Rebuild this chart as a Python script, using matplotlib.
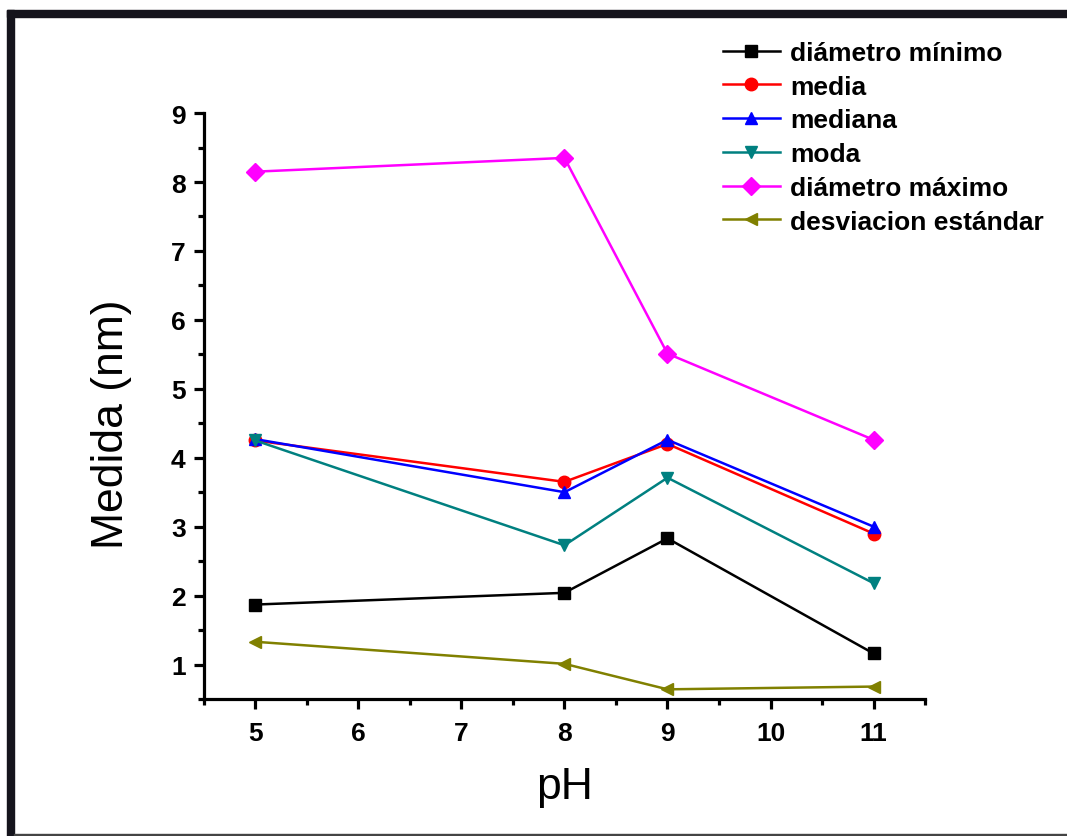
import matplotlib
matplotlib.use('Agg')
import matplotlib.pyplot as plt
from matplotlib.patches import Rectangle
from matplotlib.ticker import MultipleLocator

# pH values and measured sizes (nm)
ph = [5, 8, 9, 11]
diam_min = [1.87, 2.04, 2.83, 1.16]
media = [4.25, 3.65, 4.20, 2.90]
mediana = [4.27, 3.50, 4.26, 3.00]
moda = [4.25, 2.73, 3.71, 2.18]
diam_max = [8.15, 8.35, 5.51, 4.26]
desv = [1.33, 1.01, 0.64, 0.68]

series = [
    ("diámetro mínimo", diam_min, 'black', 's'),
    ("media", media, '#ff0000', 'o'),
    ("mediana", mediana, '#0000ff', '^'),
    ("moda", moda, '#008080', 'v'),
    ("diámetro máximo", diam_max, '#ff00ff', 'D'),
    ("desviacion estándar", desv, '#808000', '<'),
]

plt.rcParams['font.family'] = ['Liberation Sans', 'DejaVu Sans']

fig = plt.figure(figsize=(10.67, 8.37), dpi=100)
ax = fig.add_axes([0.191, 0.1637, 0.676, 0.700])

for name, vals, col, mk in series:
    ax.plot(ph, vals, color=col, marker=mk, markersize=9, linewidth=1.8, label=name)

ax.set_xlim(4.5, 11.5)
ax.set_ylim(0.5, 9)
ax.xaxis.set_major_locator(MultipleLocator(1))
ax.xaxis.set_minor_locator(MultipleLocator(0.5))
ax.yaxis.set_major_locator(MultipleLocator(1))
ax.yaxis.set_minor_locator(MultipleLocator(0.5))

for s in ['top', 'right']:
    ax.spines[s].set_visible(False)
for s in ['left', 'bottom']:
    ax.spines[s].set_linewidth(2.3)

ax.tick_params(which='major', direction='out', length=7, width=2.3, labelsize=19, pad=6)
ax.tick_params(axis='x', which='major', pad=9)
ax.tick_params(which='minor', direction='out', length=4, width=2.3)
for lab in ax.get_xticklabels() + ax.get_yticklabels():
    lab.set_fontweight('bold')

ax.set_xlabel("pH", fontsize=32, labelpad=15)
ax.set_ylabel("Medida (nm)", fontsize=32)
ax.yaxis.set_label_coords(-0.10, 0.471)

leg = fig.legend(loc='upper left', bbox_to_anchor=(0.6776, 0.950), frameon=False,
                 prop={'weight': 'bold', 'size': 19}, handlelength=2.16,
                 handletextpad=0.38, labelspacing=0.37, borderpad=0, borderaxespad=0)

# dark frame around the picture (top and left), thin line at bottom
fig.add_artist(Rectangle((7 / 1067, 1 - 18 / 837), 1 - 7 / 1067, 7 / 837,
                         transform=fig.transFigure, color='#15141c', zorder=10))
fig.add_artist(Rectangle((7 / 1067, 0), 7 / 1067, 1 - 11 / 837,
                         transform=fig.transFigure, color='#15141c', zorder=10))
fig.add_artist(Rectangle((14 / 1067, 0), 1, 2 / 837,
                         transform=fig.transFigure, color='#444444', zorder=10))

fig.savefig("out.png", dpi=100)
